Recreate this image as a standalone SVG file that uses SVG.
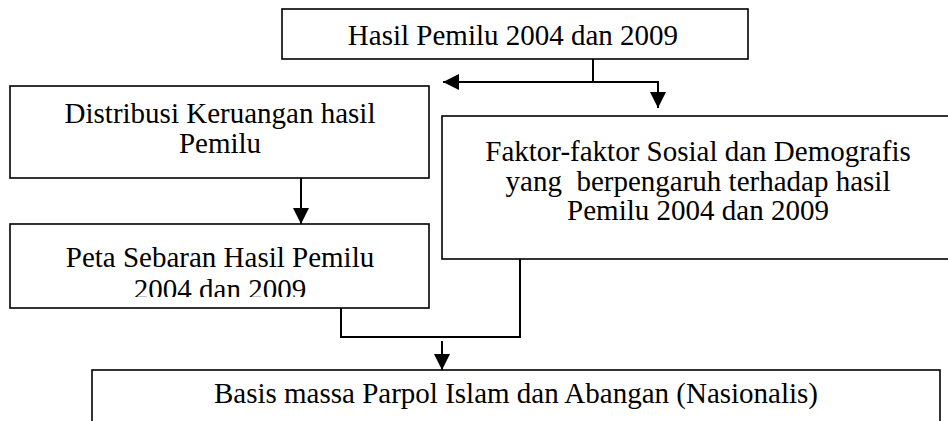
<svg xmlns="http://www.w3.org/2000/svg" width="948" height="421" viewBox="0 0 948 421">
<style>
.box{fill:#fff;stroke:#000;stroke-width:1.6}
.t{font-family:"Liberation Serif","Times New Roman",serif;font-size:29px;fill:#000;text-anchor:middle}
.c{fill:none;stroke:#000;stroke-width:2}
</style>
<defs>
<marker id="ah" markerUnits="userSpaceOnUse" markerWidth="18" markerHeight="18" refX="16" refY="8" orient="auto">
<path d="M0,0 L16,8 L0,16 Z" fill="#000"/>
</marker>
<clipPath id="clipPeta"><rect x="10" y="224" width="419" height="73"/></clipPath>
</defs>
<rect width="948" height="421" fill="#fff"/>
<g id="hasil">
<rect class="box" x="282" y="9" width="466" height="50"/>
<text class="t" x="513" y="45">Hasil Pemilu 2004 dan 2009</text>
</g>
<g id="distribusi">
<rect class="box" x="10" y="86" width="419" height="92"/>
<text class="t" x="220" y="123">Distribusi Keruangan hasil</text>
<text class="t" x="220" y="153">Pemilu</text>
</g>
<g id="peta">
<rect class="box" x="10" y="224" width="419" height="84"/>
<g clip-path="url(#clipPeta)">
<text class="t" x="220" y="267">Peta Sebaran Hasil Pemilu</text>
<text class="t" x="220" y="299">2004 dan 2009</text>
</g>
</g>
<g id="faktor">
<rect class="box" x="442" y="116" width="520" height="143"/>
<text class="t" x="698" y="161">Faktor-faktor Sosial dan Demografis</text>
<text class="t" x="698" y="191" xml:space="preserve">yang  berpengaruh terhadap hasil</text>
<text class="t" x="698" y="220">Pemilu 2004 dan 2009</text>
</g>
<g id="basis">
<rect class="box" x="92" y="370" width="848" height="80"/>
<text class="t" x="516" y="403">Basis massa Parpol Islam dan Abangan (Nasionalis)</text>
</g>
<g id="connectors">
<path class="c" d="M593,59 V82"/>
<path class="c" d="M593,82 H443" marker-end="url(#ah)"/>
<path class="c" d="M593,82 H658 V108" marker-end="url(#ah)"/>
<path class="c" d="M301,178 V224" marker-end="url(#ah)"/>
<path class="c" d="M341,308 V337 H520 V259"/>
<path class="c" d="M442,341 V370" marker-end="url(#ah)"/>
</g>
</svg>
